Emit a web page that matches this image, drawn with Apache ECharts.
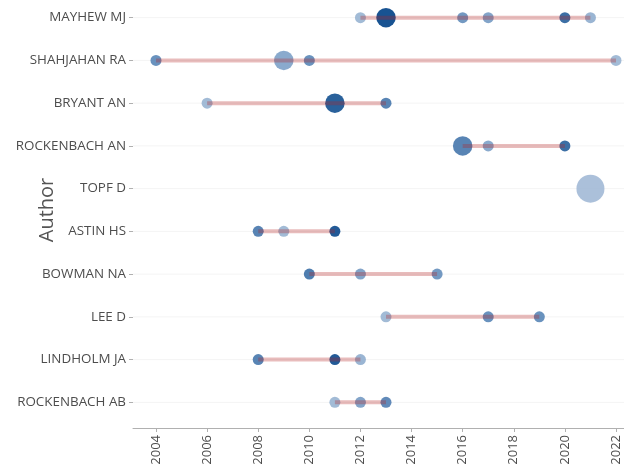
<!DOCTYPE html>
<html>
<head>
<meta charset="utf-8">
<script src="https://cdn.jsdelivr.net/npm/echarts@6/dist/echarts.min.js"></script>
<style>html,body{margin:0;padding:0;background:#fff}#c{width:624px;height:470px}</style>
</head>
<body>
<div id="c"></div>
<script>
// Authors (top to bottom)
var authors = ["MAYHEW MJ","SHAHJAHAN RA","BRYANT AN","ROCKENBACH AN","TOPF D","ASTIN HS","BOWMAN NA","LEE D","LINDHOLM JA","ROCKENBACH AB"];
// Points: author index, year, number of articles, total citations per year (relative)
var pointAuthor   = [0,0,0,0,0,0, 1,1,1,1, 2,2,2, 3,3,3, 4, 5,5,5, 6,6,6, 7,7,7, 8,8,8, 9,9,9];
var pointYear     = [2012,2013,2016,2017,2020,2021, 2004,2009,2010,2022, 2006,2011,2013, 2016,2017,2020, 2021, 2008,2009,2011, 2010,2012,2015, 2013,2017,2019, 2008,2011,2012, 2011,2012,2013];
var pointArticles = [1,2,1,1,1,1, 1,2,1,1, 1,2,1, 2,1,1, 3, 1,1,1, 1,1,1, 1,1,1, 1,1,1, 1,1,1];
var pointTCpY     = [2,10,5,4,8,2.5, 5.5,3.5,5.5,2, 2,9,6.5, 6.5,3.5,8, 1.5, 6.5,2,9.5, 7,4,5, 2,5.5,5.5, 6.5,9.5,2.5, 2,4,6];
var xTicks = [2004,2006,2008,2010,2012,2014,2016,2018,2020,2022];

var pts = pointYear.map(function(y,i){ return [y, pointAuthor[i], pointArticles[i], pointTCpY[i]]; });
var segs = authors.map(function(a,k){
  var ys = pointYear.filter(function(y,i){ return pointAuthor[i]===k; });
  return [Math.min.apply(null,ys), Math.max.apply(null,ys), k];
});
var yIdx = authors.map(function(a,i){ return i; });
var font = "Open Sans";

var chart = echarts.init(document.getElementById('c'), null, {renderer:'canvas'});
chart.setOption({
  animation:false,
  grid:{left:133, top:-8, width:506, height:436, containLabel:false, outerBoundsMode:'none'},
  xAxis:{type:'value', min:2003.1, max:2022.9,
    axisLine:{show:true, onZero:false, lineStyle:{color:'#b0b0b0', width:1}},
    axisTick:{show:true, length:4, lineStyle:{color:'#b0b0b0'}, customValues:xTicks},
    axisLabel:{rotate:90, margin:7, color:'#4d4d4d', fontFamily:font, fontSize:13, customValues:xTicks, formatter:function(v){return String(v);}},
    splitLine:{show:false}},
  yAxis:{type:'value', inverse:true, min:-0.6, max:9.6,
    axisLine:{show:false, onZero:false},
    axisTick:{show:true, length:4, lineStyle:{color:'#b0b0b0'}, customValues:yIdx},
    axisLabel:{margin:7, color:'#4d4d4d', fontFamily:font, fontSize:13.4, customValues:yIdx, formatter:function(v){return authors[v]||'';}},
    splitLine:{show:false},
    name:'Author', nameLocation:'middle', nameGap:86, nameRotate:90, nameMoveOverlap:false,
    nameTextStyle:{color:'#555555', fontFamily:font, fontSize:20, verticalAlign:'middle'}},
  visualMap:[
    {show:false, type:'continuous', seriesIndex:1, dimension:3, min:0, max:10,
      inRange:{color:['#bfcfe2','#6b93bf','#0c4a8c']}},
    {show:false, type:'continuous', seriesIndex:1, dimension:2, min:1, max:3,
      inRange:{symbolSize:[11,28]}}
  ],
  series:[
    {type:'custom', silent:true, data:yIdx, z:1,
      renderItem:function(params, api){
        var k = api.value(0);
        var l = api.coord([2003.1, k]), r = api.coord([2022.9, k]);
        return {type:'line', shape:{x1:l[0], y1:l[1], x2:r[0], y2:r[1]}, style:{stroke:'#f4f4f4', lineWidth:1}};
      }},
    {type:'scatter', data:pts, z:2, encode:{x:0, y:1}, itemStyle:{opacity:0.95}},
    {type:'custom', silent:true, data:segs, z:3,
      renderItem:function(params, api){
        var a = api.coord([api.value(0), api.value(2)]);
        var b = api.coord([api.value(1), api.value(2)]);
        return {type:'line', shape:{x1:a[0], y1:a[1], x2:b[0], y2:b[1]}, style:{stroke:'rgba(178,34,34,0.3)', lineWidth:4}};
      }}
  ]
});
</script>
</body>
</html>
